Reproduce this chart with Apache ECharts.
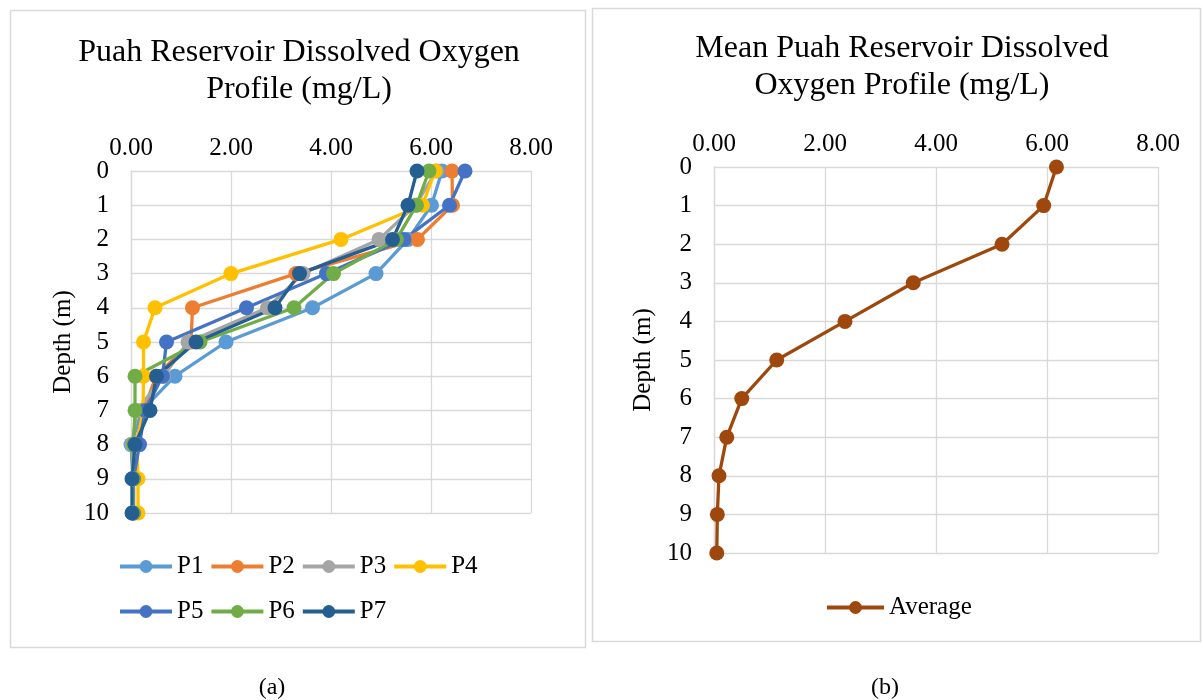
<!DOCTYPE html>
<html>
<head>
<meta charset="utf-8">
<script src="https://cdn.jsdelivr.net/npm/echarts@6/dist/echarts.min.js"></script>
<style>
html,body{margin:0;padding:0;background:#fff;}
#c{width:1203px;height:700px;}
</style>
</head>
<body>
<div id="c"></div>
<script>
const depths = [0,1,2,3,4,5,6,7,8,9,10];
const xTicks = [0,2,4,6,8];
const P1 = [6.22, 6.01, 5.54, 4.90, 3.63, 1.90, 0.88, 0.22, 0.00, 0.04, 0.03];
const P2 = [6.42, 6.43, 5.73, 3.30, 1.23, 1.20, 0.50, 0.25, 0.10, 0.05, 0.05];
const P3 = [6.11, 5.69, 4.96, 3.44, 2.73, 1.14, 0.65, 0.12, 0.02, 0.04, 0.04];
const P4 = [6.08, 5.83, 4.20, 2.00, 0.48, 0.25, 0.25, 0.24, 0.12, 0.14, 0.14];
const P5 = [6.68, 6.37, 5.46, 3.91, 2.31, 0.71, 0.63, 0.28, 0.17, 0.05, 0.05];
const P6 = [5.96, 5.71, 5.31, 4.05, 3.26, 1.38, 0.08, 0.08, 0.05, 0.04, 0.04];
const P7 = [5.72, 5.54, 5.23, 3.37, 2.88, 1.30, 0.51, 0.38, 0.08, 0.02, 0.02];
const Average = [6.17, 5.94, 5.19, 3.59, 2.36, 1.13, 0.50, 0.23, 0.09, 0.06, 0.05];
const seriesNames = ['P1','P2','P3','P4','P5','P6','P7'];
const seriesVals = [P1,P2,P3,P4,P5,P6,P7];
const colors = ['#5B9BD5','#ED7D31','#A5A5A5','#FFC000','#4472C4','#70AD47','#255E91'];
const avgColor = '#9E480E';
const titleA = 'Puah Reservoir Dissolved Oxygen\nProfile (mg/L)';
const titleB = 'Mean Puah Reservoir Dissolved\nOxygen Profile (mg/L)';

const FONT = '"Liberation Serif","Times New Roman",serif';
const gridColor = '#D9D9D9';

function xAxisCfg(gridIndex){
  return {
    gridIndex, type:'value', position:'top', min:0, max:8, interval:2,
    axisLine:{show:false}, axisTick:{show:false},
    splitLine:{show:true, lineStyle:{color:gridColor, width:1.3}},
    axisLabel:{formatter:v=>v.toFixed(2), color:'#000', fontFamily:FONT, fontSize:25, margin:10}
  };
}
function yAxisCfg(gridIndex, gap){
  return {
    gridIndex, type:'value', inverse:true, min:0, max:10, interval:1,
    name:'Depth (m)', nameLocation:'middle', nameGap:gap, nameRotate:90,
    nameTextStyle:{color:'#000', fontFamily:FONT, fontSize:25},
    axisLine:{show:true, lineStyle:{color:gridColor, width:1.3}}, axisTick:{show:false},
    splitLine:{show:true, lineStyle:{color:gridColor, width:1.3}},
    axisLabel:{color:'#000', fontFamily:FONT, fontSize:25, margin:22}
  };
}

const series = seriesNames.map((n,i)=>({
  name:n, type:'line', xAxisIndex:0, yAxisIndex:0,
  data: seriesVals[i].map((v,k)=>[v, depths[k]]),
  symbol:'circle', symbolSize:15, showSymbol:true,
  lineStyle:{width:3.3, color:colors[i]}, itemStyle:{color:colors[i]},
  animation:false
}));
series.push({
  name:'Average', type:'line', xAxisIndex:1, yAxisIndex:1,
  data: Average.map((v,k)=>[v, depths[k]]),
  symbol:'circle', symbolSize:15,
  lineStyle:{width:3.3, color:avgColor}, itemStyle:{color:avgColor},
  animation:false
});

const legendText = {color:'#000', fontFamily:FONT, fontSize:25};
const legendLine = {width:4};
const option = {
  animation:false,
  backgroundColor:'#fff',
  title:[
    {text:titleA, left:294, top:29, textAlign:'center',
     textStyle:{fontFamily:FONT, fontWeight:'normal', fontSize:32, color:'#000', lineHeight:37}},
    {text:titleB, left:897, top:25, textAlign:'center',
     textStyle:{fontFamily:FONT, fontWeight:'normal', fontSize:32, color:'#000', lineHeight:37}}
  ],
  legend:[
    {data:['P1','P2','P3','P4'], left:113, top:549, itemWidth:52, itemHeight:16, itemGap:6,
     textStyle:legendText, lineStyle:legendLine},
    {data:['P5','P6','P7'], left:113, top:594, itemWidth:52, itemHeight:16, itemGap:6,
     textStyle:legendText, lineStyle:legendLine},
    {data:['Average'], left:820, top:590, itemWidth:57, itemHeight:16, itemGap:6,
     textStyle:legendText, lineStyle:legendLine}
  ],
  grid:[
    {left:131, top:171, width:400, height:342},
    {left:714, top:167, width:444, height:386}
  ],
  xAxis:[xAxisCfg(0), xAxisCfg(1)],
  yAxis:[yAxisCfg(0, 55), yAxisCfg(1, 58)],
  series,
  graphic:[
    {type:'rect', shape:{x:10.5, y:10.5, width:575, height:637}, style:{fill:null, stroke:gridColor, lineWidth:1.5}, z:-1},
    {type:'rect', shape:{x:592.5, y:8.5, width:608, height:633}, style:{fill:null, stroke:gridColor, lineWidth:1.5}, z:-1},
    {type:'text', x:272, y:688, style:{text:'(a)', fontFamily:FONT, fontSize:24, fill:'#000', textAlign:'center', textVerticalAlign:'middle'}},
    {type:'text', x:885, y:688, style:{text:'(b)', fontFamily:FONT, fontSize:24, fill:'#000', textAlign:'center', textVerticalAlign:'middle'}}
  ]
};
const chart = echarts.init(document.getElementById('c'), null, {renderer:'canvas'});
chart.setOption(option);
</script>
</body>
</html>
